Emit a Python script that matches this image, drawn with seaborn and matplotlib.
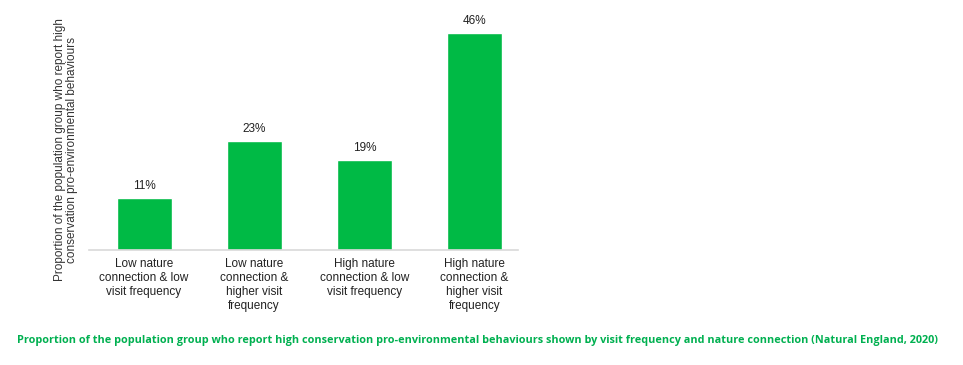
import matplotlib
matplotlib.use("Agg")
import matplotlib.pyplot as plt
import seaborn as sns
import pandas as pd

# data
categories = [
    "Low nature\nconnection & low\nvisit frequency",
    "Low nature\nconnection &\nhigher visit\nfrequency",
    "High nature\nconnection & low\nvisit frequency",
    "High nature\nconnection &\nhigher visit\nfrequency",
]
values = [11, 23, 19, 46]

bar_green = "#00BA45"
caption_green = "#00B050"

sns.set_style("white")
plt.rcParams['font.family'] = ['Liberation Sans', 'DejaVu Sans']

df = pd.DataFrame({"group": categories, "pct": values})

fig = plt.figure(figsize=(9.63, 3.65), dpi=100)
ax = fig.add_axes([0.0924, 0.315, 0.446, 0.647])

sns.barplot(data=df, x="group", y="pct", color=bar_green, width=0.5,
            saturation=1, ax=ax)

for i, v in enumerate(values):
    ax.text(i, v + 1.3, f"{v}%", ha="center", va="bottom", fontsize=8.5,
            color="#222222")

ax.set_ylim(0, 50)
ax.set_xlim(-0.5, 3.4)
ax.set_xlabel("")
ax.set_ylabel("")
ax.set_yticks([])
ax.tick_params(axis="x", length=0, pad=6, labelsize=8.5, labelcolor="#222222")
for s in ["top", "right", "left"]:
    ax.spines[s].set_visible(False)
ax.spines["bottom"].set_color("#d9d9d9")
ax.spines["bottom"].set_linewidth(1.2)

fig.text(0.0685, 1 - 150 / 365,
         "Proportion of the population group who report high\nconservation pro-environmental behaviours",
         rotation=90, ha="center", va="center", fontsize=8.5, color="#333333",
         linespacing=0.95)

fig.text(477 / 963, 1 - 340 / 365,
         "Proportion of the population group who report high conservation pro-environmental behaviours shown by visit frequency and nature connection (Natural England, 2020)",
         ha="center", va="center", fontsize=7.8, color=caption_green,
         fontweight="bold", family=["Open Sans", "DejaVu Sans"])

fig.savefig("out.png", dpi=100)
